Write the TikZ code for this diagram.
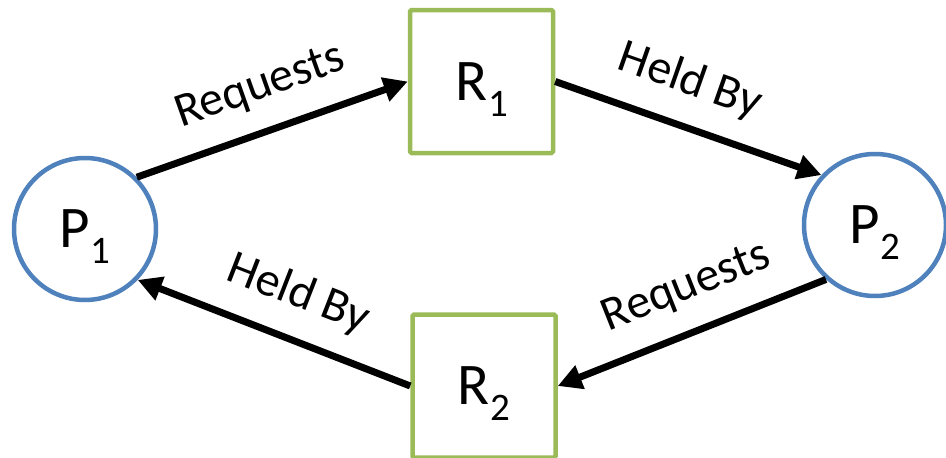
\documentclass[tikz,border=0pt]{standalone}
\usepackage{fontspec}
\setmainfont{Carlito}
\usetikzlibrary{arrows.meta}
\definecolor{procblue}{RGB}{79,129,189}
\definecolor{resgreen}{RGB}{155,187,89}
\newcommand{\lowidx}[1]{\kern1pt\raisebox{-0.27em}[0pt][0pt]{\fontsize{39}{40}\selectfont #1}}
\tikzstyle{proc} = [circle, draw=procblue, line width=4.5pt, minimum size=142pt, inner sep=0pt, font=\fontsize{59}{60}\selectfont]
\tikzstyle{res} = [rectangle, draw=resgreen, line width=4.5pt, minimum width=143pt, minimum height=143pt, inner sep=0pt, rounded corners=1.5pt, font=\fontsize{59}{60}\selectfont]
\tikzset{edge/.style = {
    line width=7pt,
    -{Triangle[length=24pt,width=24pt]},
  }
}
\tikzset{lbl/.style = {sloped, above=19pt, inner sep=2pt, font=\fontsize{48}{50}\selectfont}}

\begin{document}
\begin{tikzpicture}[x=1pt, y=-1pt]
            \useasboundingbox (0,0) rectangle (946,458);
            % vertices
            \node[proc] (p1) at (85 , 229) {P\lowidx{1}};
            \node[proc] (p2) at (875 , 225) {P\lowidx{2}};
            \node[res] (r1) at (481.5 , 81.5) {R\lowidx{1}};
            \node[res] (r2) at (484 , 386) {R\lowidx{2}};

            % request and hold lines
            \draw[edge] (p1.45) -- node[lbl, pos=0.51] {Requests} (r1.west);
            \draw[edge] (r1.east) -- node[lbl, pos=0.45] {Held By} (p2.137);
            \draw[edge] (p2.228) -- node[lbl, pos=0.46] {Requests} (r2.east);
            \draw[edge] (r2.west) -- node[lbl, pos=0.47] {Held By} (p1.-44);
\end{tikzpicture}
\end{document}
